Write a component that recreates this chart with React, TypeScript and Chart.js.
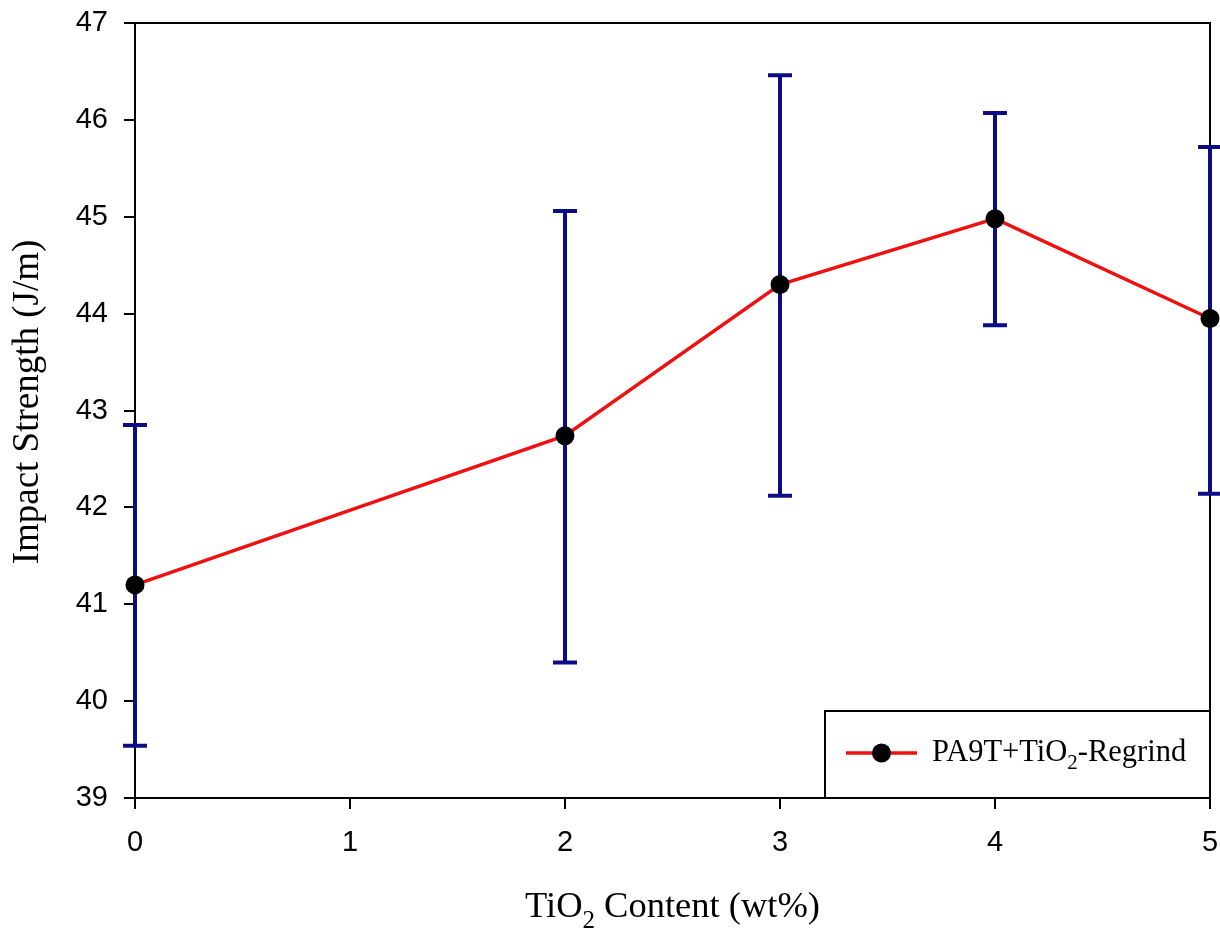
import React, { useEffect, useRef } from 'react';
import { Chart, registerables } from 'chart.js';

Chart.register(...registerables);

// ---- data ----
const tio2Content = [0, 2, 3, 4, 5];
const impactStrength = [41.2, 42.74, 44.3, 44.98, 43.95];
const errorHigh = [42.85, 45.06, 46.46, 46.07, 45.72];
const errorLow = [39.54, 40.4, 42.12, 43.88, 42.14];
const xTickValues = [0, 1, 2, 3, 4, 5];
const yTickValues = [39, 40, 41, 42, 43, 44, 45, 46, 47];
const seriesLabel = 'PA9T+TiO₂-Regrind';
const xTitle = 'TiO₂ Content (wt%)';
const yTitle = 'Impact Strength (J/m)';

const LINE_COLOR = '#ee1111';
const ERR_COLOR = '#0c0c86';
const SERIF = "'Liberation Serif', 'Times New Roman', serif";
const SANS = "'Liberation Sans', Arial, sans-serif";

function drawRich(
  ctx: CanvasRenderingContext2D,
  text: string,
  x: number,
  y: number,
  size: number,
  subSize: number,
  subOffset: number,
  align: 'left' | 'center'
) {
  const parts = text.split('₂');
  const segs: { t: string; sub: boolean }[] = [];
  parts.forEach((p, i) => {
    if (p) segs.push({ t: p, sub: false });
    if (i < parts.length - 1) segs.push({ t: '2', sub: true });
  });
  let total = 0;
  const widths = segs.map((s) => {
    ctx.font = `${s.sub ? subSize : size}px ${SERIF}`;
    const w = ctx.measureText(s.t).width;
    total += w;
    return w;
  });
  let cx = align === 'center' ? x - total / 2 : x;
  ctx.textAlign = 'left';
  ctx.textBaseline = 'alphabetic';
  segs.forEach((s, i) => {
    ctx.font = `${s.sub ? subSize : size}px ${SERIF}`;
    ctx.fillText(s.t, cx, y + (s.sub ? subOffset : 0));
    cx += widths[i];
  });
}

const decorPlugin = {
  id: 'decor',
  beforeDatasetsDraw(chart: any) {
    const { ctx, chartArea, scales } = chart;
    const xs = scales.x;
    const ys = scales.y;
    ctx.save();
    // frame (top + right)
    ctx.strokeStyle = '#000';
    ctx.lineWidth = 2;
    ctx.beginPath();
    ctx.moveTo(chartArea.left, chartArea.top);
    ctx.lineTo(chartArea.right, chartArea.top);
    ctx.lineTo(chartArea.right, chartArea.bottom);
    ctx.stroke();
    // error bars
    ctx.strokeStyle = ERR_COLOR;
    ctx.lineWidth = 4;
    ctx.lineCap = 'butt';
    tio2Content.forEach((xv, i) => {
      const px = xs.getPixelForValue(xv);
      const top = ys.getPixelForValue(errorHigh[i]);
      const bot = ys.getPixelForValue(errorLow[i]);
      ctx.beginPath();
      ctx.moveTo(px, top);
      ctx.lineTo(px, bot);
      ctx.moveTo(px - 12, top);
      ctx.lineTo(px + 12, top);
      ctx.moveTo(px - 12, bot);
      ctx.lineTo(px + 12, bot);
      ctx.stroke();
    });
    ctx.restore();
  },
  afterDraw(chart: any) {
    const { ctx, chartArea } = chart;
    ctx.save();
    ctx.fillStyle = '#000';
    // x title
    drawRich(ctx, xTitle, (chartArea.left + chartArea.right) / 2, 917, 36.5, 25, 11, 'center');
    // y title
    ctx.save();
    ctx.translate(38, 402);
    ctx.rotate(-Math.PI / 2);
    drawRich(ctx, yTitle, 0, 0, 37, 25, 11, 'center');
    ctx.restore();
    // legend box
    const bx = 825;
    const by = 711;
    const bw = chartArea.right - bx;
    const bh = chartArea.bottom - by;
    ctx.fillStyle = '#fff';
    ctx.fillRect(bx, by, bw, bh);
    ctx.strokeStyle = '#000';
    ctx.lineWidth = 2;
    ctx.strokeRect(bx, by, bw, bh);
    const ly = by + 42;
    ctx.strokeStyle = LINE_COLOR;
    ctx.lineWidth = 3.5;
    ctx.beginPath();
    ctx.moveTo(846, ly);
    ctx.lineTo(917, ly);
    ctx.stroke();
    ctx.fillStyle = '#000';
    ctx.beginPath();
    ctx.arc(881.5, ly, 9.5, 0, Math.PI * 2);
    ctx.fill();
    drawRich(ctx, seriesLabel, 932, by + 50, 30.5, 21, 8, 'left');
    ctx.restore();
  },
};

export default function App() {
  const ref = useRef<HTMLCanvasElement | null>(null);
  useEffect(() => {
    if (!ref.current) return;
    const chart = new Chart(ref.current, {
      type: 'line',
      data: {
        datasets: [
          {
            label: seriesLabel,
            data: tio2Content.map((x, i) => ({ x, y: impactStrength[i] })),
            borderColor: LINE_COLOR,
            borderWidth: 3.5,
            pointBackgroundColor: '#000',
            pointBorderColor: '#000',
            pointBorderWidth: 0,
            pointRadius: 9.5,
            tension: 0,
            clip: false as any,
          },
        ],
      },
      options: {
        animation: false,
        responsive: false,
        events: [],
        layout: { padding: { top: 23, right: 10, left: 0, bottom: 0 } },
        plugins: { legend: { display: false }, tooltip: { enabled: false } },
        scales: {
          x: {
            type: 'linear',
            min: xTickValues[0],
            max: xTickValues[xTickValues.length - 1],
            afterBuildTicks: (s: any) => {
              s.ticks = xTickValues.map((v) => ({ value: v }));
            },
            afterFit: (s: any) => {
              s.height = 131;
              s.paddingLeft = 0;
              s.paddingRight = 0;
            },
            ticks: {
              color: '#000',
              font: { family: SANS, size: 29 },
              padding: 17,
              maxRotation: 0,
              autoSkip: false,
            },
            grid: {
              drawOnChartArea: false,
              drawTicks: true,
              tickLength: 11,
              color: '#000',
              lineWidth: 2,
            },
            border: { display: true, color: '#000', width: 2 },
          },
          y: {
            type: 'linear',
            min: yTickValues[0],
            max: yTickValues[yTickValues.length - 1],
            afterBuildTicks: (s: any) => {
              s.ticks = yTickValues.map((v) => ({ value: v }));
            },
            afterFit: (s: any) => {
              s.width = 135;
              s.paddingTop = 0;
              s.paddingBottom = 0;
            },
            ticks: {
              color: '#000',
              font: { family: SANS, size: 29 },
              padding: 16,
              autoSkip: false,
            },
            grid: {
              drawOnChartArea: false,
              drawTicks: true,
              tickLength: 11,
              color: '#000',
              lineWidth: 2,
            },
            border: { display: true, color: '#000', width: 2 },
          },
        },
      },
      plugins: [decorPlugin],
    } as any);
    return () => chart.destroy();
  }, []);
  return (
    <div style={{ position: 'fixed', left: 0, top: 0, width: 1220, height: 929, background: '#fff' }}>
      <canvas ref={ref} width={1220} height={929} style={{ display: 'block' }} />
    </div>
  );
}
